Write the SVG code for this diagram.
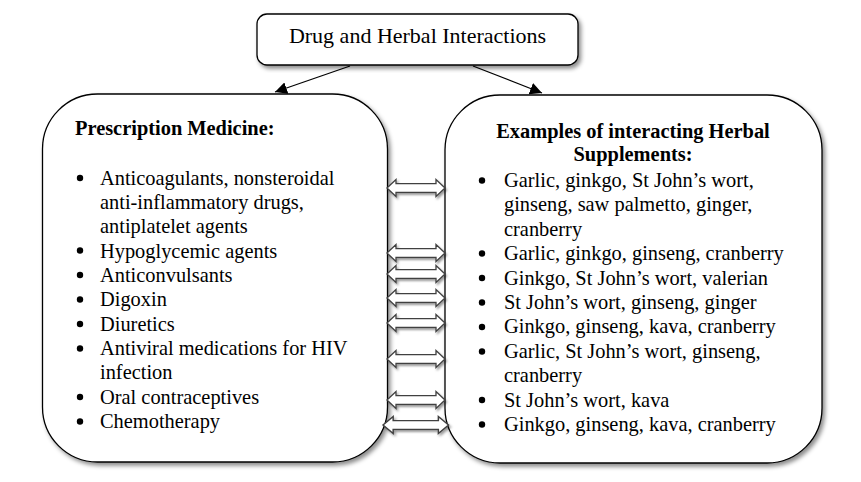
<svg xmlns="http://www.w3.org/2000/svg" width="861" height="482" viewBox="0 0 861 482">
<defs>
<filter id="sh" x="-10%" y="-10%" width="125%" height="125%">
<feDropShadow dx="2.5" dy="3" stdDeviation="2" flood-color="#000" flood-opacity="0.45"/>
</filter>
<filter id="sh2" x="-10%" y="-30%" width="125%" height="170%">
<feDropShadow dx="1.5" dy="2" stdDeviation="1.2" flood-color="#000" flood-opacity="0.4"/>
</filter>
<marker id="ah" viewBox="0 0 10 10" refX="10" refY="5" markerWidth="12" markerHeight="12" markerUnits="userSpaceOnUse" orient="auto">
<path d="M0,0 L10,5 L0,10 z" fill="#000"/>
</marker>
<path id="dbl" d="M0,0 L9,-8.5 L9,-4.3 L49,-4.3 L49,-8.5 L58,0 L49,8.5 L49,4.3 L9,4.3 L9,8.5 z"/>
</defs>
<style>
.box{fill:#fff;stroke:#000;stroke-width:1.3;filter:url(#sh)}
.t{font-family:"Liberation Serif","Times New Roman",serif;font-size:20.4px;fill:#000}
.b{font-weight:bold}
.title{font-size:22px}
.bul{fill:#000}
.con line{stroke:#000;stroke-width:1.2;marker-end:url(#ah)}
.dbl use{fill:#fff;stroke:#404040;stroke-width:1.3;filter:url(#sh2)}
</style>

<g id="top">
<rect class="box" x="257" y="14" width="321" height="51" rx="10" ry="10"/>
<text class="t title" x="417.5" y="43" text-anchor="middle">Drug and Herbal Interactions</text>
</g>

<g id="prescription">
<rect class="box" x="42.5" y="94" width="345" height="368" rx="55" ry="55"/>
<text class="t b" x="75" y="135">Prescription Medicine:</text>
<g class="bul">
<circle cx="80" cy="178" r="3.2"/>
<circle cx="80" cy="250.5" r="3.2"/>
<circle cx="80" cy="275" r="3.2"/>
<circle cx="80" cy="299.5" r="3.2"/>
<circle cx="80" cy="324" r="3.2"/>
<circle cx="80" cy="348.5" r="3.2"/>
<circle cx="80" cy="397" r="3.2"/>
<circle cx="80" cy="421.5" r="3.2"/>
</g>
<text class="t" x="100" y="184.5">Anticoagulants, nonsteroidal</text>
<text class="t" x="100" y="208.8">anti-inflammatory drugs,</text>
<text class="t" x="100" y="233.2">antiplatelet agents</text>
<text class="t" x="100" y="257.5">Hypoglycemic agents</text>
<text class="t" x="100" y="281.9">Anticonvulsants</text>
<text class="t" x="100" y="306.2">Digoxin</text>
<text class="t" x="100" y="330.6">Diuretics</text>
<text class="t" x="100" y="354.9">Antiviral medications for HIV</text>
<text class="t" x="100" y="379.3">infection</text>
<text class="t" x="100" y="403.6">Oral contraceptives</text>
<text class="t" x="100" y="428">Chemotherapy</text>
</g>

<g id="herbal">
<rect class="box" x="445" y="95" width="377" height="368" rx="55" ry="55"/>
<text class="t b" x="633" y="138" text-anchor="middle">Examples of interacting Herbal</text>
<text class="t b" x="633" y="161" text-anchor="middle">Supplements:</text>
<g class="bul">
<circle cx="482" cy="180.5" r="3.2"/>
<circle cx="482" cy="253.5" r="3.2"/>
<circle cx="482" cy="278" r="3.2"/>
<circle cx="482" cy="302.5" r="3.2"/>
<circle cx="482" cy="327" r="3.2"/>
<circle cx="482" cy="351.5" r="3.2"/>
<circle cx="482" cy="400" r="3.2"/>
<circle cx="482" cy="424.5" r="3.2"/>
</g>
<text class="t" x="504" y="187">Garlic, ginkgo, St John’s wort,</text>
<text class="t" x="504" y="211.4">ginseng, saw palmetto, ginger,</text>
<text class="t" x="504" y="235.8">cranberry</text>
<text class="t" x="504" y="260.2">Garlic, ginkgo, ginseng, cranberry</text>
<text class="t" x="504" y="284.6">Ginkgo, St John’s wort, valerian</text>
<text class="t" x="504" y="309">St John’s wort, ginseng, ginger</text>
<text class="t" x="504" y="333.4">Ginkgo, ginseng, kava, cranberry</text>
<text class="t" x="504" y="357.8">Garlic, St John’s wort, ginseng,</text>
<text class="t" x="504" y="382.2">cranberry</text>
<text class="t" x="504" y="406.6">St John’s wort, kava</text>
<text class="t" x="504" y="431">Ginkgo, ginseng, kava, cranberry</text>
</g>

<g id="connectors">
<g class="con">
<line x1="350" y1="66" x2="275" y2="92"/>
<line x1="473" y1="66" x2="542" y2="93"/>
</g>
<g class="dbl">
<use href="#dbl" x="387" y="188"/>
<use href="#dbl" x="387" y="253"/>
<use href="#dbl" x="387" y="274"/>
<use href="#dbl" x="387" y="298"/>
<use href="#dbl" x="387" y="323"/>
<use href="#dbl" x="387" y="359"/>
<use href="#dbl" x="387" y="400"/>
<use href="#dbl" transform="translate(383,425) scale(1.13,1)"/>
</g>
</g>
</svg>
